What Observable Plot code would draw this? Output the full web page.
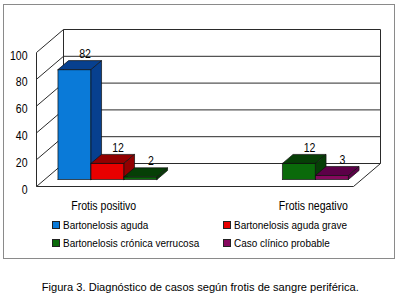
<!DOCTYPE html>
<html><head><meta charset="utf-8">
<script src="https://cdn.jsdelivr.net/npm/d3@7"></script>
<script src="https://cdn.jsdelivr.net/npm/@observablehq/plot@0.6"></script>
<style>
body{margin:0;background:#fff;}
#wrap{position:relative;width:400px;height:297px;overflow:hidden;font-family:"Liberation Sans",Arial,sans-serif;color:#000;}
#chart{position:absolute;left:0;top:0;}
#frame{position:absolute;left:3px;top:4px;width:390px;height:253px;border:1.5px solid #8a8a8a;pointer-events:none;}
#legend{position:absolute;left:52px;top:216px;display:grid;grid-template-columns:171px auto;font-size:11.5px;}
#legend .it{height:18px;line-height:18px;white-space:nowrap;display:flex;align-items:center;}
#legend .sw{display:inline-block;width:6px;height:6px;border:1px solid #222;margin-right:3px;flex:none;}
#legend .tx{display:inline-block;transform:scaleX(0.866);transform-origin:left center;}
#caption{position:absolute;left:0;top:279px;width:400px;text-align:center;font-size:11.5px;line-height:16px;white-space:nowrap;}
#caption span{display:inline-block;transform:scaleX(0.965);transform-origin:center;}
</style></head>
<body>
<div id="wrap">
  <div id="chart"></div>
  <div id="legend"></div>
  <div id="frame"></div>
  <div id="caption"><span>Figura 3. Diagnóstico de casos según frotis de sangre periférica.</span></div>
</div>
<script>
const categories = ["Frotis positivo", "Frotis negativo"];
const seriesNames = ["Bartonelosis aguda", "Bartonelosis aguda grave", "Bartonelosis crónica verrucosa", "Caso clínico probable"];
const positivo = [82, 12, 2, 0];
const negativo = [0, 0, 12, 3];
const yTicks = [0, 20, 40, 60, 80, 100];
const frontColors = ["#0a7ad8", "#e80000", "#0a6a0a", "#86085e"];
const shadeColors = ["#07408f", "#920000", "#063f06", "#5c0048"];

const values = [positivo, negativo];

// geometry of the pseudo-3D projection
const X_RANGE = [36, 353], Y_RANGE = [186, 52];
const depthPx = [27, 23];
const pxPerX = (X_RANGE[1] - X_RANGE[0]) / categories.length;
const pxPerY = (Y_RANGE[0] - Y_RANGE[1]) / 100;
const DX = depthPx[0] / pxPerX, DY = depthPx[1] / pxPerY;
const gap = 13.25 / pxPerX;
const slot = (1 - 2 * gap) / seriesNames.length;
const f0 = 7 / 23, fb = 9 / 23;

const faces = [], labels = [];
values.forEach((vals, c) => vals.forEach((v, s) => {
  if (!v) return;
  const x0 = c + gap + s * slot + f0 * DX, x1 = x0 + slot;
  const b = f0 * DY, ddx = fb * DX, ddy = fb * DY;
  const id = c + "-" + s;
  const poly = (name, color, pts) => pts.concat([pts[0]]).forEach(([x, y]) => faces.push({id: id + name, color, x, y}));
  poly("f", frontColors[s], [[x0, b], [x1, b], [x1, b + v], [x0, b + v]]);
  poly("t", shadeColors[s], [[x0, b + v], [x1, b + v], [x1 + ddx, b + v + ddy], [x0 + ddx, b + v + ddy]]);
  poly("s", shadeColors[s], [[x1, b], [x1 + ddx, b + ddy], [x1 + ddx, b + ddy + v], [x1, b + v]]);
  labels.push({x: (x0 + x1) / 2 + ddx, y: b + v + ddy, text: String(v)});
}));

const n = categories.length;
const segs = [];
yTicks.forEach(t => {
  segs.push({x1: DX, y1: DY + t, x2: n + DX, y2: DY + t});   // back wall gridline
  segs.push({x1: 0, y1: t, x2: DX, y2: DY + t});             // left wall diagonal
});
segs.push({x1: 0, y1: 0, x2: 0, y2: 100});
segs.push({x1: DX, y1: DY, x2: DX, y2: DY + 100});
segs.push({x1: n + DX, y1: DY, x2: n + DX, y2: DY + 100});
segs.push({x1: 0, y1: 0, x2: n, y2: 0});
segs.push({x1: n, y1: 0, x2: n + DX, y2: DY});

const chart = Plot.plot({
  width: 400, height: 215,
  x: {domain: [0, n], range: X_RANGE, axis: null},
  y: {domain: [0, 100], range: Y_RANGE, axis: null},
  color: {type: "identity"},
  style: {fontFamily: '"Liberation Sans",Arial,sans-serif', background: "transparent", overflow: "visible"},
  marks: [
    Plot.link(segs, {x1: "x1", y1: "y1", x2: "x2", y2: "y2", stroke: "#2a2a2a", strokeWidth: 1}),
    Plot.text(yTicks, {x: 0, y: d => d, text: d => String(d), textAnchor: "end", dx: -9, dy: 3, fontSize: 13}),
    Plot.line(faces, {x: "x", y: "y", z: "id", fill: "color", stroke: "#111", strokeWidth: 0.7, curve: "linear"}),
    Plot.text(labels, {x: "x", y: "y", text: "text", dy: -7, fontSize: 13}),
    Plot.text([categories[0]], {x: 0.5, y: 0, text: d => d, dx: -12, dy: 19, fontSize: 13}),
    Plot.text([categories[1]], {x: 1.5, y: 0, text: d => d, dx: 39, dy: 19, fontSize: 13})
  ]
});
document.getElementById("chart").appendChild(chart);
// narrow the glyphs horizontally (the reference uses a condensed face)
chart.querySelectorAll("text").forEach(el => {
  const w = el.getComputedTextLength();
  if (w > 0) {
    el.setAttribute("textLength", (w * 0.81).toFixed(2));
    el.setAttribute("lengthAdjust", "spacingAndGlyphs");
  }
});

const legend = document.getElementById("legend");
seriesNames.forEach((name, i) => {
  const it = document.createElement("div");
  it.className = "it";
  const sw = document.createElement("span");
  sw.className = "sw";
  sw.style.background = frontColors[i];
  const tx = document.createElement("span");
  tx.className = "tx";
  tx.textContent = name;
  it.appendChild(sw);
  it.appendChild(tx);
  legend.appendChild(it);
});
</script>
</body></html>
